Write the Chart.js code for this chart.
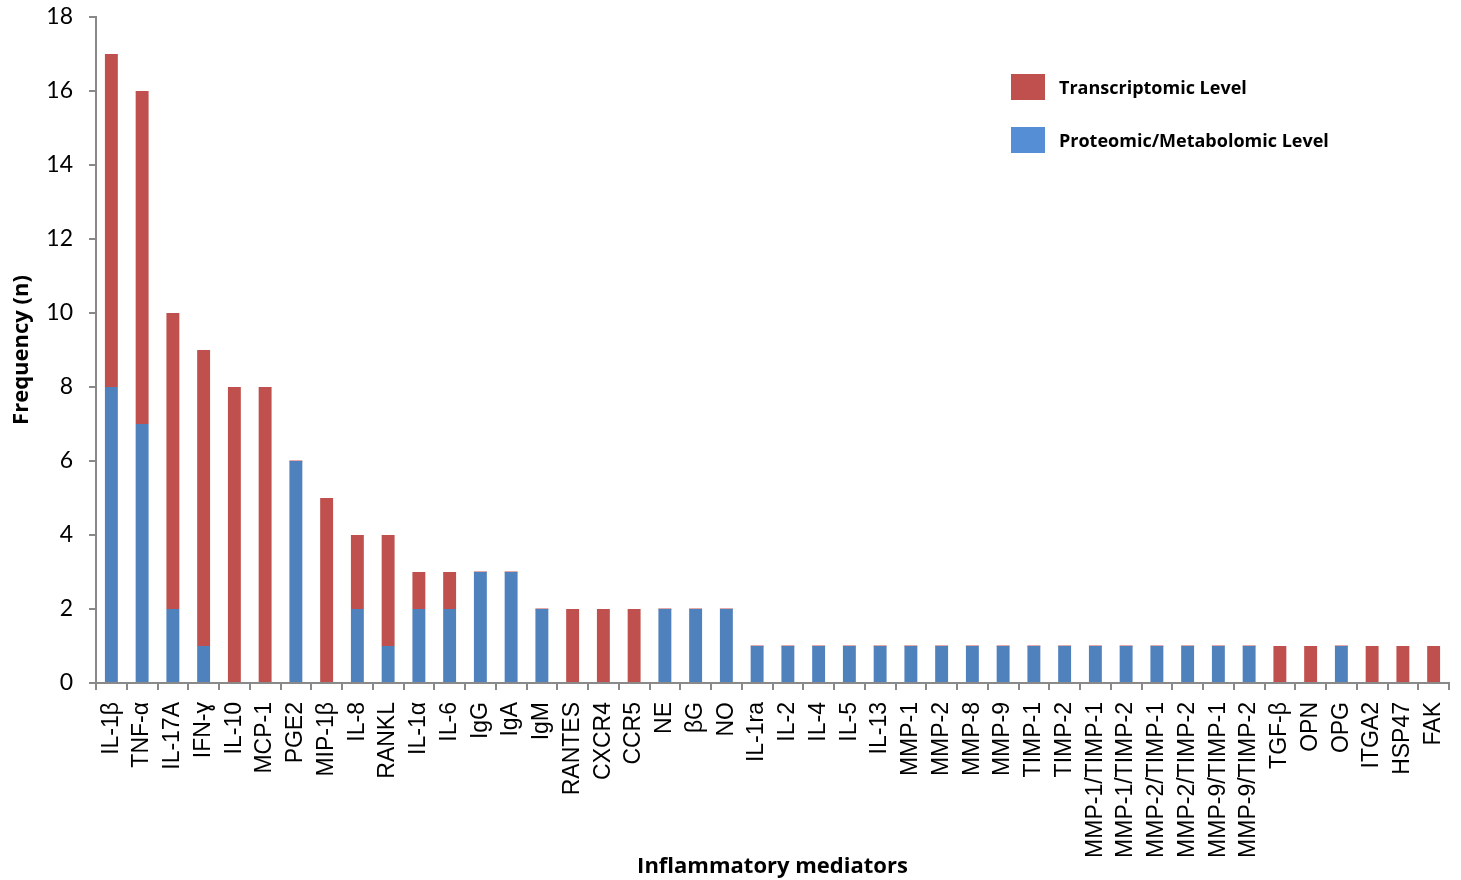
<!DOCTYPE html>
<html>
<head>
<meta charset="utf-8">
<script src="https://cdn.jsdelivr.net/npm/chart.js@4"></script>
<style>
  body { margin: 0; background: #fff; }
  #wrap { width: 1461px; height: 880px; }
</style>
</head>
<body>
<div id="wrap"><canvas id="chart1"></canvas></div>
<script>
// categories (x axis)
const mediators = [
  "IL-1β", "TNF-α", "IL-17A", "IFN-ɣ", "IL-10", "MCP-1", "PGE2", "MIP-1β", "IL-8", "RANKL",
  "IL-1α", "IL-6", "IgG", "IgA", "IgM", "RANTES", "CXCR4", "CCR5", "NE", "βG", "NO",
  "IL-1ra", "IL-2", "IL-4", "IL-5", "IL-13", "MMP-1", "MMP-2", "MMP-8", "MMP-9", "TIMP-1", "TIMP-2",
  "MMP-1/TIMP-1", "MMP-1/TIMP-2", "MMP-2/TIMP-1", "MMP-2/TIMP-2", "MMP-9/TIMP-1", "MMP-9/TIMP-2",
  "TGF-β", "OPN", "OPG", "ITGA2", "HSP47", "FAK"
];
// series values
const transcriptomic = [
  9, 9, 8, 8, 8, 8, 0, 5, 2, 3,
  1, 1, 0, 0, 0, 2, 2, 2, 0, 0, 0,
  0, 0, 0, 0, 0, 0, 0, 0, 0, 0, 0,
  0, 0, 0, 0, 0, 0,
  1, 1, 0, 1, 1, 1
];
const proteomic = [
  8, 7, 2, 1, 0, 0, 6, 0, 2, 1,
  2, 2, 3, 3, 2, 0, 0, 0, 2, 2, 2,
  1, 1, 1, 1, 1, 1, 1, 1, 1, 1, 1,
  1, 1, 1, 1, 1, 1,
  0, 0, 1, 0, 0, 0
];
const yTicks = [0, 2, 4, 6, 8, 10, 12, 14, 16, 18];

const RED = "#C0504D";
const BLUE = "#4F81BD";
const AXIS = "#898989";

// legend drawn by hand, top right inside the plot
const legendPlugin = {
  id: "cornerLegend",
  afterDraw(chart) {
    const ctx = chart.ctx;
    const items = [
      { text: "Transcriptomic Level", color: RED },
      { text: "Proteomic/Metabolomic Level", color: "#558ED5" },
    ];
    ctx.save();
    ctx.font = "bold 18px 'Open Sans'";
    ctx.textBaseline = "middle";
    items.forEach((it, i) => {
      const y = 74 + i * 53;
      ctx.fillStyle = it.color;
      ctx.fillRect(1011, y, 34, 26);
      ctx.fillStyle = "#000";
      ctx.fillText(it.text, 1059, y + 15);
    });
    ctx.restore();
  },
};

const ctx = document.getElementById("chart1").getContext("2d");
const myChart = new Chart(ctx, {
  type: "bar",
  data: {
    labels: mediators,
    datasets: [
      {
        label: "Proteomic/Metabolomic Level",
        data: proteomic,
        backgroundColor: BLUE,
        borderWidth: 0,
      },
      {
        label: "Transcriptomic Level",
        data: transcriptomic,
        backgroundColor: RED,
        borderWidth: 0,
        minBarLength: 1,
      },
    ],
  },
  options: {
    responsive: true,
    maintainAspectRatio: false,
    animation: false,
    layout: { padding: { top: 17, right: 12, left: 0, bottom: 0 } },
    datasets: { bar: { categoryPercentage: 1, barPercentage: 0.42 } },
    plugins: {
      legend: { display: false },
      tooltip: { enabled: false },
    },
    scales: {
      x: {
        stacked: true,
        afterFit: (s) => { s.height = 197; s.paddingLeft = 0; s.paddingRight = 0; },
        border: { color: AXIS, width: 2 },
        grid: { drawOnChartArea: false, color: AXIS, lineWidth: 2, tickLength: 7, offset: true },
        ticks: {
          autoSkip: false,
          minRotation: 90,
          maxRotation: 90,
          padding: 12,
          color: "#000",
          font: { family: "Liberation Sans", size: 23 },
        },
        title: {
          display: true,
          text: "Inflammatory mediators",
          color: "#000",
          font: { family: "Open Sans", size: 22, weight: "bold" },
          padding: { top: 0, bottom: 0 },
        },
      },
      y: {
        stacked: true,
        min: 0,
        max: 18,
        afterFit: (s) => { s.width = 96; s.paddingTop = 0; s.paddingBottom = 0; },
        afterBuildTicks: (s) => { s.ticks = yTicks.map((v) => ({ value: v })); },
        border: { color: AXIS, width: 2 },
        grid: { drawOnChartArea: false, color: AXIS, lineWidth: 2, tickLength: 7 },
        ticks: {
          padding: 16,
          color: "#000",
          font: { family: "Lato", size: 23 },
        },
        title: {
          display: true,
          text: "Frequency (n)",
          color: "#000",
          font: { family: "Open Sans", size: 22, weight: "bold" },
          padding: { top: 9, bottom: 0 },
        },
      },
    },
  },
  plugins: [legendPlugin],
});
</script>
</body>
</html>
